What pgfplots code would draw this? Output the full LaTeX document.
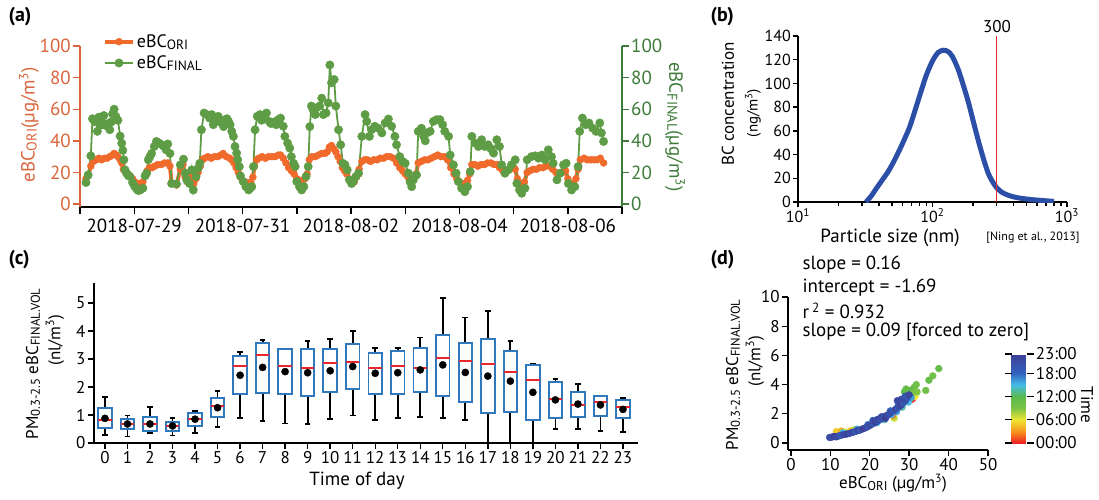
\documentclass[border=0pt]{standalone}
\usepackage{fontspec}
\setmainfont{PT Sans}
\usepackage{pgfplots}
\pgfplotsset{compat=1.18}
\usepackage{pgfplotstable}
\usepgfplotslibrary{statistics}
\definecolor{oriax}{HTML}{D9653C}
\definecolor{orid}{HTML}{F06A2C}
\definecolor{finax}{HTML}{3E7B3A}
\definecolor{find}{HTML}{5E9C45}
\definecolor{boxb}{HTML}{2F78BE}
\definecolor{medr}{HTML}{E8262B}
\definecolor{curveb}{HTML}{2B4FA6}
\newcommand{\fs}[1]{\fontsize{#1}{#1}\selectfont}
\newcommand{\sub}[1]{\raisebox{-0.1em}{\scalebox{0.75}{#1}}}
\newcommand{\cub}{\textsuperscript{3}}
% hour, lower whisker, lower quartile, median, upper quartile, upper whisker
\newcommand{\bx}[6]{\addplot[draw=black, mark=none, boxplot prepared={draw position=#1,
  lower whisker=#2, lower quartile=#3, median=#4, upper quartile=#5, upper whisker=#6}] coordinates {};}
\pgfplotsset{
  base/.style={scale only axis, anchor=south west,
    /pgf/number format/assume math mode=true,
    axis line style={line width=1.6pt}, tick align=outside,
    major tick length=7pt, minor tick length=7pt,
    every tick/.style={line width=1.4pt, black}},
}

% panel (c): hourly means
\pgfplotstableread{
h mean
0 0.88
1 0.68
2 0.68
3 0.61
4 0.85
5 1.26
6 2.42
7 2.70
8 2.55
9 2.51
10 2.58
11 2.73
12 2.49
13 2.51
14 2.61
15 2.79
16 2.52
17 2.39
18 2.21
19 1.81
20 1.54
21 1.39
22 1.36
23 1.20
}\meandata

% panel (d): scatter, meta = hour of day
\pgfplotstableread{
x y h
11.5 0.78 5
12.8 0.82 4
14.0 0.75 6
15.2 0.85 5
16.0 0.90 7
24.8 2.00 6
26.2 1.70 7
25.8 1.90 2
30.8 3.00 1
31.5 3.20 6
28.5 2.80 11
29.8 3.30 10
30.2 3.60 12
30.8 3.40 9
31.2 3.80 11
31.8 4.00 10
32.0 3.50 9
34.2 3.60 10
35.0 4.30 11
36.0 4.60 10
37.5 5.10 11
28.8 3.50 12
29.2 3.70 11
13.2 0.70 15
16.8 0.95 16
21.8 1.38 15
23.8 1.60 14
25.5 1.95 15
26.8 2.15 16
28.2 2.45 14
29.8 2.80 15
30.5 3.10 16
19.5 1.25 18
20.8 1.55 18
22.8 1.72 17
25.2 2.20 18
27.2 2.60 17
9.8 0.38 21
10.2 0.40 22
10.6 0.42 20
11.0 0.45 23
11.5 0.42 21
12.0 0.47 22
12.5 0.52 19
13.0 0.55 20
13.5 0.58 22
14.0 0.60 21
14.5 0.64 23
15.0 0.67 20
15.5 0.72 22
16.0 0.76 21
16.5 0.80 19
17.0 0.85 22
17.5 0.88 20
18.0 0.94 21
18.5 1.00 23
19.0 1.05 22
19.5 1.12 20
20.0 1.20 21
20.5 1.28 22
21.0 1.35 19
21.0 1.50 21
21.5 1.42 23
22.0 1.50 20
22.0 1.62 22
22.5 1.60 21
23.0 1.65 19
23.0 1.80 22
23.5 1.75 20
24.0 1.85 21
24.0 1.70 23
24.5 1.90 22
25.0 2.00 20
25.5 2.10 21
26.0 2.20 19
26.5 2.30 22
27.0 2.40 20
27.5 2.50 21
28.0 2.60 22
28.5 2.75 19
29.0 2.90 21
29.5 3.10 20
28.0 3.00 21
27.0 2.90 22
29.0 3.20 20
30.0 3.30 22
}\scatdata

\begin{document}
\begin{tikzpicture}
\path[use as bounding box] (0,0) rectangle (1099pt,-500pt);

% ---------- (a) ----------
\begin{axis}[base, width=542pt, height=161.2pt, at={(80pt,-207.2pt)},
  xmin=0, xmax=10, ymin=-2, ymax=100,
  axis x line*=bottom, axis y line*=left,
  y axis line style={oriax}, ytick style={oriax},
  xtick={1,3,5,7,9}, minor xtick={0,2,...,10},
  xticklabels={2018-07-29,2018-07-31,2018-08-02,2018-08-04,2018-08-06},
  ytick={0,20,...,100},
  xticklabel style={font=\fs{19}, inner sep=1pt, yshift=-4pt},
  yticklabel style={font=\fs{19}, text=oriax, inner sep=2pt},
  unbounded coords=jump,
  legend style={at={(0.042,1.085)}, anchor=north west, draw=none, fill=none,
    font=\fs{18}, inner sep=0pt, row sep=3pt, cells={anchor=west}},
  legend image code/.code={\draw[mark repeat=2,mark phase=2,#1] plot coordinates {(0pt,0pt) (14pt,0pt) (28pt,0pt)};}]
\addplot[orid, line width=4pt, mark=*, mark size=3.5pt, mark options={line width=0.4pt}] coordinates {
(0.11,16) (0.15,18) (0.2,24) (0.25,27) (0.3,28) (0.35,29) (0.4,28) (0.45,29) (0.5,29) (0.55,30) (0.6,31) (0.63,32) (0.67,31) (0.7,30) (0.74,28) (0.77,26) (0.8,22) (0.84,20) (0.88,19) (0.92,18) (0.97,16) (1.01,14) (1.05,13) (1.1,13) (1.16,14) (1.2,18) (1.24,21) (1.28,23) (1.33,23) (1.38,24) (1.44,25) (1.5,25) (1.56,26) (1.62,26) (1.66,24) (1.69,13)
(1.73,nan)
(1.78,12) (1.85,22) (1.9,25) (1.94,17) (1.98,14) (2.02,15) (2.06,19) (2.1,13) (2.14,16) (2.18,20) (2.22,24) (2.26,28) (2.3,29) (2.36,30) (2.42,29) (2.48,30) (2.54,30) (2.6,31) (2.64,32) (2.7,30) (2.76,29) (2.8,28) (2.84,26) (2.88,23) (2.92,20) (2.96,17) (3.0,15) (3.05,14) (3.1,13) (3.15,14) (3.19,17) (3.22,24) (3.26,28) (3.3,29) (3.36,30) (3.42,29) (3.48,30) (3.54,30) (3.6,30) (3.66,31) (3.7,31) (3.75,29) (3.8,26) (3.85,23) (3.9,21) (3.95,19) (4.0,16) (4.05,15) (4.1,15) (4.15,16) (4.19,19) (4.23,28) (4.28,30) (4.34,30) (4.4,31) (4.46,32) (4.52,32) (4.56,33) (4.6,36) (4.64,37) (4.68,35) (4.72,33) (4.76,30) (4.8,27) (4.84,23) (4.88,21) (4.92,19) (4.97,16) (5.02,13) (5.06,14) (5.1,17) (5.15,22) (5.2,27) (5.25,28) (5.3,28) (5.36,27) (5.42,28) (5.48,28) (5.54,29) (5.6,29) (5.66,30) (5.72,30) (5.78,29) (5.84,26) (5.9,23) (5.95,21) (6.0,19) (6.05,17) (6.1,15) (6.15,15) (6.2,19) (6.24,26) (6.3,27) (6.36,28) (6.42,28) (6.48,29) (6.54,30) (6.6,31) (6.66,30) (6.72,30) (6.78,28) (6.84,23) (6.9,19) (6.95,16) (7.0,14) (7.05,13) (7.1,13) (7.15,15) (7.19,19) (7.23,25) (7.28,25) (7.34,24) (7.4,25) (7.46,25) (7.52,26) (7.58,26) (7.64,25) (7.7,25) (7.74,23) (7.8,21) (7.86,21) (7.92,22) (7.98,24) (8.03,22) (8.07,16) (8.11,13) (8.15,12) (8.2,14) (8.25,20) (8.3,21) (8.36,22) (8.42,22) (8.48,23) (8.54,23) (8.6,24) (8.66,24) (8.72,22) (8.78,20) (8.84,19) (8.9,20) (8.96,21) (9.0,16) (9.05,13) (9.1,13) (9.15,16) (9.19,22) (9.23,28) (9.3,29) (9.36,28) (9.42,28) (9.48,28) (9.54,28) (9.6,29) (9.66,26)};
\addlegendentry{eBC\sub{ORI}}
\addplot[find, line width=1.8pt, mark=*, mark size=4.2pt, mark options={line width=0.4pt}] coordinates {
(0.11,13.6) (0.15,18.4) (0.2,30.5) (0.23,54) (0.27,52) (0.31,53) (0.32,46) (0.35,55) (0.37,53) (0.4,50) (0.44,56) (0.47,50) (0.49,49.5) (0.52,51) (0.55,47) (0.58,52) (0.6,57) (0.63,60) (0.66,55.5) (0.7,53) (0.74,43) (0.77,38.5) (0.79,34) (0.81,28) (0.83,21.6) (0.86,19.5) (0.89,18) (0.92,17.4) (0.97,13.6) (1.01,11) (1.05,9.3) (1.08,8.5) (1.11,8.9) (1.16,10) (1.2,17.8) (1.23,19.5) (1.26,28) (1.29,30) (1.32,32) (1.37,36.4) (1.41,39.6) (1.46,38.6) (1.51,37.5) (1.55,36.4) (1.59,34.3) (1.62,38) (1.66,32) (1.69,13)
(1.73,nan)
(1.78,12.7) (1.85,24.8) (1.91,28.4) (1.94,19.5) (1.97,15.3) (2.02,13) (2.06,21.6) (2.09,8.9) (2.14,17.4) (2.18,22.7) (2.21,25.8) (2.24,47) (2.29,57.6) (2.34,56.6) (2.39,54.4) (2.43,56.6) (2.46,50.2) (2.51,53.4) (2.55,55.5) (2.58,52) (2.61,53) (2.65,49) (2.68,51.3) (2.71,54) (2.74,52.3) (2.77,50.2) (2.8,46) (2.83,42.8) (2.86,36.4) (2.89,32.2) (2.91,28) (2.94,23.7) (2.96,17.8) (3.01,14.2) (3.06,11) (3.11,8.9) (3.14,10) (3.17,11) (3.2,23.7) (3.23,47) (3.27,55.5) (3.32,56.6) (3.35,53) (3.38,54.4) (3.44,57.6) (3.49,52.3) (3.52,51) (3.55,51.3) (3.59,52) (3.62,50.2) (3.66,53.4) (3.7,54.4) (3.75,49.2) (3.78,42.8) (3.83,38.6) (3.87,35.4) (3.9,30) (3.94,25.8) (3.97,23.7) (4.0,14.2) (4.05,11) (4.09,8.9) (4.13,11) (4.17,17.4) (4.21,23.7) (4.24,49) (4.27,62) (4.3,59.7) (4.34,56.6) (4.37,61) (4.42,62) (4.46,67) (4.49,56.6) (4.54,57.6) (4.58,64) (4.61,88) (4.64,76.7) (4.69,78.8) (4.72,62) (4.77,47) (4.81,37.5) (4.85,25.8) (4.89,24.8) (4.93,21.6) (4.97,15.3) (5.01,13) (5.04,14.2) (5.09,17.4) (5.14,19.5) (5.2,42.8) (5.26,56.6) (5.29,52.3) (5.34,42.8) (5.38,47) (5.44,49.2) (5.5,48) (5.57,45) (5.63,51.3) (5.69,53.8) (5.75,49.2) (5.81,42.8) (5.84,37.5) (5.9,30) (5.95,27) (6.0,25.8) (6.06,19.5) (6.09,14) (6.12,11) (6.15,15.3) (6.21,18.4) (6.24,46) (6.3,48) (6.34,42.8) (6.37,40) (6.4,45) (6.46,46) (6.52,52.3) (6.58,53.4) (6.64,53.4) (6.69,50.2) (6.73,46) (6.8,42.8) (6.83,31) (6.89,24.8) (6.94,19.5) (6.98,14.2) (7.04,10) (7.1,7.8) (7.15,11) (7.2,20.5) (7.23,42.8) (7.29,38.6) (7.35,36.4) (7.41,40.7) (7.47,36.4) (7.53,37.5) (7.58,35) (7.63,32.2) (7.69,40.7) (7.74,36.4) (7.78,24.8) (7.84,19.5) (7.9,21.6) (7.96,24.8) (8.03,28) (8.06,13) (8.11,8.9) (8.15,6.8) (8.21,10) (8.25,28) (8.33,30) (8.4,30.5) (8.46,29) (8.52,31) (8.58,28) (8.64,34.3) (8.7,30) (8.73,25.8) (8.8,15.3) (8.86,19.5) (8.92,24.8) (8.97,25.8) (9.01,13) (9.07,8.9) (9.13,11) (9.19,23.7) (9.22,46) (9.27,54.4) (9.33,50.2) (9.39,51.3) (9.46,48) (9.52,46) (9.59,51.3) (9.62,45) (9.66,39.6)};
\addlegendentry{eBC\sub{FINAL}}
\end{axis}
\begin{axis}[base, width=542pt, height=161.2pt, at={(80pt,-207.2pt)},
  xmin=0, xmax=10, ymin=-2, ymax=100,
  axis x line=none, axis y line*=right,
  y axis line style={finax}, ytick style={finax},
  ytick={0,20,...,100},
  yticklabel style={font=\fs{19}, text=finax, inner sep=2pt}]
\addplot[draw=none] coordinates {(0,0)};
\end{axis}

% ---------- (b) ----------
\begin{axis}[base, width=269pt, height=166pt, at={(798pt,-202pt)},
  xmode=log, xmin=10, xmax=1000, ymin=0, ymax=140,
  axis x line*=bottom, axis y line*=left,
  major tick length=5pt, minor tick length=4pt,
  xtick={10,100,1000},
  xticklabels={10\textsuperscript{1},10\textsuperscript{2},10\textsuperscript{3}},
  minor xtick={20,30,40,50,60,70,80,90,200,300,400,500,600,700,800,900},
  ytick={0,20,...,140},
  xticklabel style={font=\fs{16}, inner sep=1pt},
  yticklabel style={font=\fs{16}, inner sep=2pt}]
\addplot[curveb, line width=5pt, smooth] coordinates {
(32,0) (35,5) (38,11) (42,18) (47,26) (52,35) (58,46) (63,55) (68,64) (75,79) (82,93) (90,107) (100,119) (110,126) (120,128) (130,127) (140,123) (155,112) (170,98) (185,84) (200,69) (220,51) (240,36) (260,24) (280,17) (300,12) (330,8) (370,5.5) (420,3.8) (500,2.5) (600,1.6) (700,1) (800,0.5)};
\addplot[medr, line width=1.6pt] coordinates {(300,0) (300,140)};
\end{axis}

% ---------- (c) ----------
\begin{axis}[base, width=543.9pt, height=160pt, at={(93.7pt,-443pt)},
  xmin=-0.5, xmax=23.65, ymin=0, ymax=5.714,
  axis x line*=bottom, axis y line*=left,
  major tick length=6pt,
  xtick={0,...,23}, ytick={0,...,5},
  xticklabel style={font=\fs{17}, inner sep=2pt},
  yticklabel style={font=\fs{17}, inner sep=2pt},
  boxplot/draw direction=y,
  boxplot/box extend=0.6,
  boxplot/whisker extend=0.25,
  boxplot/every box/.style={draw=boxb, line width=1.9pt, fill=none},
  boxplot/every whisker/.style={draw=black, line width=1.8pt},
  boxplot/every median/.style={draw=medr, line width=2pt}]
\bx{0}{0.29}{0.55}{0.82}{1.24}{1.65}
\bx{1}{0.23}{0.49}{0.68}{0.85}{0.98}
\bx{2}{0.35}{0.43}{0.68}{0.92}{1.30}
\bx{3}{0.27}{0.43}{0.61}{0.76}{0.88}
\bx{4}{0.35}{0.61}{0.85}{1.06}{1.15}
\bx{5}{0.58}{0.94}{1.32}{1.60}{1.85}
\bx{6}{0.88}{1.75}{2.75}{3.10}{3.26}
\bx{7}{0.80}{1.80}{3.14}{3.56}{3.68}
\bx{8}{0.70}{1.74}{2.75}{3.36}{3.36}
\bx{9}{0.68}{1.69}{2.69}{3.35}{3.64}
\bx{10}{0.86}{1.81}{2.85}{3.35}{3.70}
\bx{11}{0.98}{1.93}{2.90}{3.54}{4.01}
\bx{12}{0.82}{1.74}{2.69}{3.23}{3.38}
\bx{13}{0.90}{1.74}{2.75}{3.30}{3.40}
\bx{14}{0.94}{1.83}{2.69}{3.38}{3.77}
\bx{15}{0.90}{1.68}{3.05}{3.86}{5.19}
\bx{16}{0.82}{1.48}{2.94}{3.58}{4.48}
\bx{17}{0.02}{1.06}{2.81}{3.71}{4.71}
\bx{18}{0.02}{1.10}{2.55}{3.30}{3.65}
\bx{19}{0.02}{0.82}{2.25}{2.79}{2.82}
\bx{20}{0.50}{0.90}{1.57}{2.19}{2.29}
\bx{21}{0.50}{0.94}{1.36}{1.83}{2.10}
\bx{22}{0.43}{0.98}{1.48}{1.69}{1.69}
\bx{23}{0.40}{0.88}{1.30}{1.54}{1.60}
\addplot[only marks, mark=*, mark size=3.6pt, black] table[x=h, y=mean] {\meandata};
\end{axis}

% ---------- (d) ----------
\begin{axis}[base, width=200.2pt, height=153pt, at={(787.8pt,-450pt)},
  xmin=-0.8, xmax=50, ymin=-0.48, ymax=10,
  axis x line*=bottom, axis y line*=left,
  major tick length=6pt,
  xtick={0,10,...,50}, ytick={0,2,...,10},
  xticklabel style={font=\fs{17}, inner sep=2pt},
  yticklabel style={font=\fs{17}, inner sep=2pt},
  colormap={tod}{rgb255(0cm)=(237,32,36); rgb255(3cm)=(247,148,30); rgb255(6cm)=(240,230,50); rgb255(9cm)=(125,195,70); rgb255(12cm)=(90,185,75); rgb255(15cm)=(70,190,230); rgb255(18cm)=(50,100,190); rgb255(23cm)=(62,62,150)},
  point meta min=0, point meta max=23,
  colorbar,
  colorbar style={scale only axis, width=15pt, height=89pt,
    at={(parent axis.south east)}, anchor=south west, xshift=15pt, yshift=7pt,
    ytick={0,6,12,18,23}, yticklabels={00:00,06:00,12:00,18:00,23:00},
    yticklabel style={font=\fs{17}, inner sep=2pt},
    axis line style={draw=none}, tick align=outside, major tick length=7pt,
    every tick/.style={black, line width=1.4pt},
    /pgf/number format/assume math mode=true}]
\addplot[scatter, only marks, mark=*, mark size=3.4pt, point meta=explicit,
  scatter/use mapped color={draw=mapped color, fill=mapped color}]
  table[x=x, y=y, meta=h] {\scatdata};
\end{axis}

% ---------- texts ----------
\node[font=\fs{20}\bfseries, anchor=west] at (5pt,-17pt) {(a)};
\node[font=\fs{20}\bfseries, anchor=west] at (707pt,-17pt) {(b)};
\node[font=\fs{20}\bfseries, anchor=west] at (5pt,-260pt) {(c)};
\node[font=\fs{20}\bfseries, anchor=west] at (707pt,-260pt) {(d)};

\node[rotate=90, text=oriax, font=\fs{19}] at (29pt,-125pt) {eBC\sub{ORI}(µg/m\cub)};
\node[rotate=-90, text=finax, font=\fs{19}] at (675pt,-127pt) {eBC\sub{FINAL}(µg/m\cub)};

\node[rotate=90, font=\fs{17}] at (728pt,-104pt) {BC concentration};
\node[rotate=90, font=\fs{15}] at (753pt,-113pt) {(ng/m\cub)};
\node[font=\fs{19}] at (890pt,-238pt) {Particle size (nm)};
\node[font=\fs{12}] at (1033pt,-238pt) {[Ning et al., 2013]};
\node[font=\fs{17}] at (997pt,-27pt) {300};

\node[rotate=90, font=\fs{17}] at (33pt,-364pt) {PM\sub{0.3-2.5} eBC\sub{FINAL.VOL}};
\node[rotate=90, font=\fs{17}] at (55pt,-340pt) {(nl/m\cub)};
\node[font=\fs{19}] at (357pt,-481pt) {Time of day};

\node[rotate=90, font=\fs{17}] at (733pt,-375pt) {PM\sub{0.3-2.5} eBC\sub{FINAL.VOL}};
\node[rotate=90, font=\fs{17}] at (755pt,-361pt) {(nl/m\cub)};
\node[font=\fs{17}] at (893pt,-483pt) {eBC\sub{ORI} (µg/m\cub)};
\node[font=\fs{19}, anchor=west] at (799pt,-265pt) {slope = 0.16};
\node[font=\fs{19}, anchor=west] at (799pt,-288pt) {intercept = -1.69};
\node[font=\fs{19}, anchor=west] at (799pt,-311pt) {r\,\textsuperscript{2} = 0.932};
\node[font=\fs{19}, anchor=west] at (799pt,-332pt) {slope = 0.09 [forced to zero]};
\node[rotate=-90, font=\fs{17}] at (1087pt,-405pt) {Time};
\end{tikzpicture}
\end{document}
